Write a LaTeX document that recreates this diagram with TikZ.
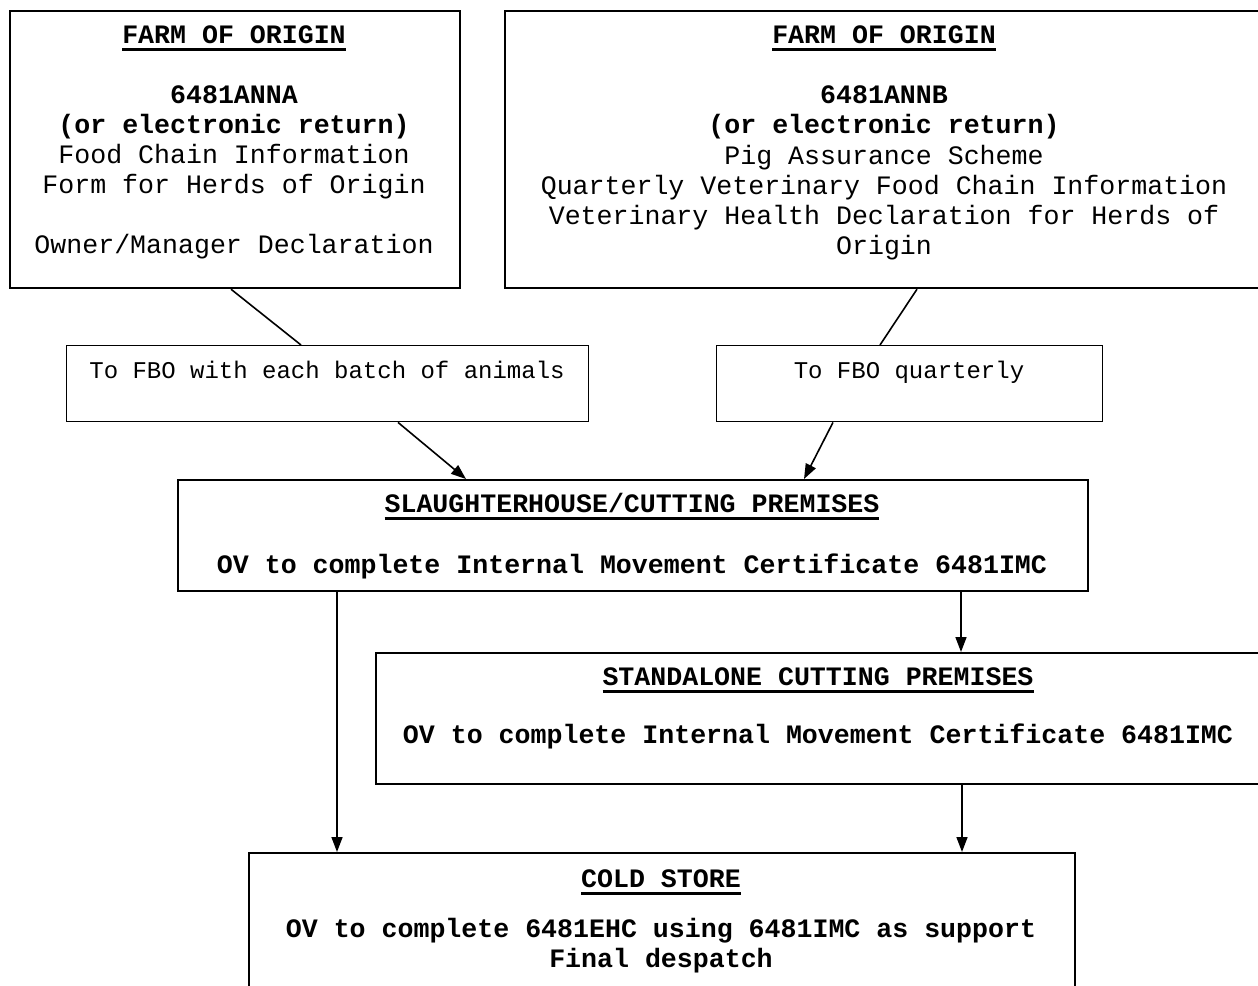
\documentclass[tikz,border=0pt]{standalone}
\usepackage{fontspec}
\setmainfont{Liberation Mono}
\usetikzlibrary{arrows.meta,calc}
\newcommand\titleul[1]{\setbox0\hbox{#1}\leavevmode\rlap{\rule[-8pt]{\wd0}{3pt}}\box0}
\tikzset{
  bigbox/.style={draw=black, line width=2.2pt, anchor=north west, inner sep=0pt},
  labbox/.style={draw=black, line width=1.4pt, anchor=north west, inner sep=0pt},
  txt/.style={anchor=base, inner sep=0pt, font=\fontsize{26.6pt}{30pt}\selectfont},
  btxt/.style={txt, font=\fontsize{26.6pt}{30pt}\selectfont\bfseries},
  stxt/.style={anchor=base, inner sep=0pt, font=\fontsize{24pt}{28pt}\selectfont},
  conn/.style={line width=1.6pt},
  arr/.style={conn, -{Triangle[length=15pt,width=11pt]}}
}
\begin{document}
\begin{tikzpicture}[x=1pt,y=-1pt]
\useasboundingbox (0,0) rectangle (1258,985);
\clip (0,0) rectangle (1258,985);
\fill[white] (0,0) rectangle (1258,985);
% boxes
\node[bigbox, minimum width=450pt, minimum height=277pt] (boxA) at (9,10) {};
\node[bigbox, minimum width=760pt, minimum height=277pt] (boxB) at (504,10) {};
\node[labbox, minimum width=522pt, minimum height=76pt] (lab1) at (66,345) {};
\node[labbox, minimum width=386pt, minimum height=76pt] (lab2) at (716,345) {};
\node[bigbox, minimum width=910pt, minimum height=111pt] (slh) at (177,479) {};
\node[bigbox, minimum width=886pt, minimum height=131pt] (sta) at (375,652) {};
\node[bigbox, minimum width=826pt, minimum height=160pt] (cold) at (248,852) {};
% box A text
\node[btxt] (a1) at (234,43) {\titleul{FARM OF ORIGIN}};
\node[btxt] (a2) at (234,103) {6481ANNA};
\node[btxt] (a3) at (234,133) {(or electronic return)};
\node[txt] (a4) at (234,163) {Food Chain Information};
\node[txt] (a5) at (234,193) {Form for Herds of Origin};
\node[txt] (a6) at (234,253) {Owner/Manager Declaration};
% box B text
\node[btxt] (b1) at (884,43) {\titleul{FARM OF ORIGIN}};
\node[btxt] (b2) at (884,103) {6481ANNB};
\node[btxt] (b3) at (884,133) {(or electronic return)};
\node[txt] (b4) at (884,164) {Pig Assurance Scheme};
\node[txt] (b5) at (884,194) {Quarterly Veterinary Food Chain Information};
\node[txt] (b6) at (884,224) {Veterinary Health Declaration for Herds of};
\node[txt] (b7) at (884,254) {Origin};
% label texts
\node[stxt] (l1) at (327,378) {To FBO with each batch of animals};
\node[stxt] (l2) at (909,378) {To FBO quarterly};
% slaughterhouse
\node[btxt] (s1) at (632,512) {\titleul{SLAUGHTERHOUSE/CUTTING PREMISES}};
\node[btxt] (s2) at (632,573) {OV to complete Internal Movement Certificate 6481IMC};
% standalone
\node[btxt] (t1) at (818,685) {\titleul{STANDALONE CUTTING PREMISES}};
\node[btxt] (t2) at (818,743) {OV to complete Internal Movement Certificate 6481IMC};
% cold store
\node[btxt] (c1) at (661,887) {\titleul{COLD STORE}};
\node[btxt] (c2) at (661,937) {OV to complete 6481EHC using 6481IMC as support};
\node[btxt] (c3) at (661,967) {Final despatch};
% connectors
\draw[conn] (boxA.south -| 231,0) -- (lab1.north -| 301,0);
\draw[conn] (boxB.south -| 917,0) -- (lab2.north -| 880,0);
\draw[arr] (lab1.south -| 398,0) -- (slh.north -| 466,0);
\draw[arr] (lab2.south -| 833,0) -- (slh.north -| 804,0);
\draw[arr] (slh.south -| 961,0) -- (sta.north -| 961,0);
\draw[arr] (slh.south -| 337,0) -- (cold.north -| 337,0);
\draw[arr] (sta.south -| 962,0) -- (cold.north -| 962,0);
\end{tikzpicture}
\end{document}
